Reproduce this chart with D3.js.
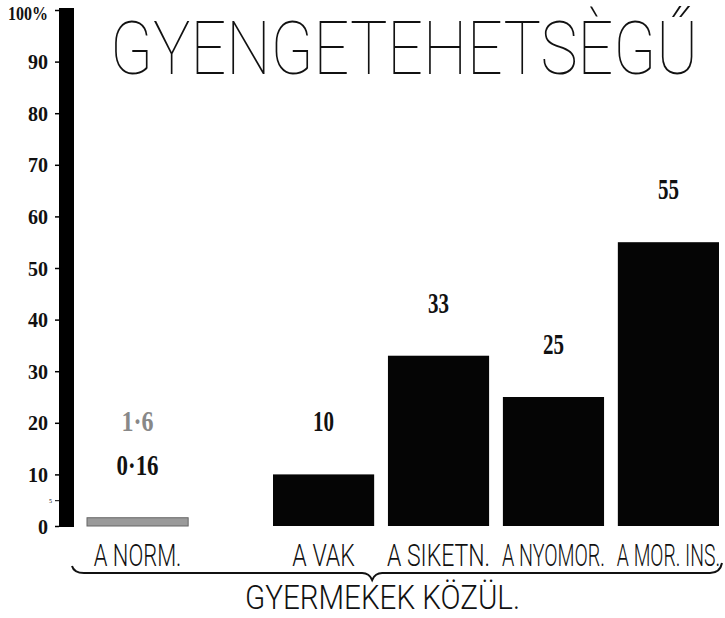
<!DOCTYPE html>
<html>
<head>
<meta charset="utf-8">
<script src="https://cdn.jsdelivr.net/npm/d3@7"></script>
<style>
  body { margin: 0; background: #fff; }
</style>
</head>
<body>
<div id="chart"></div>
<script>
// data
const categories = ["A NORM.", "A VAK", "A SIKETN.", "A NYOMOR.", "A MOR. INS."];
const values = [1.6, 10, 33, 25, 55];
const valueLabels = ["0·16", "10", "33", "25", "55"];
const normExtraLabel = "1·6";
const yTicks = [0, 10, 20, 30, 40, 50, 60, 70, 80, 90, 100];
const minorTicks = [5];
const title = "GYENGETEHETSÈGŰ";
const groupLabel = "GYERMEKEK KÖZÜL.";

const width = 725, height = 618;

var svg = d3.select("#chart")
    .append("svg")
    .attr("width", width)
    .attr("height", height);

svg.append("rect").attr("width", width).attr("height", height).attr("fill", "#fff");

// y scale: 0 at the foot of the bars, 100% at the top of the post
var y = d3.scaleLinear().domain([0, 100]).range([526, 10]);

// the normal children stand apart from the other four groups
var xLeft = d3.scaleBand().domain(categories.slice(0, 1)).range([87, 188]).padding(0);
var xRight = d3.scaleBand().domain(categories.slice(1)).range([273, 719])
    .paddingInner(0.12).paddingOuter(0);
function xPos(c) { return c === categories[0] ? xLeft(c) : xRight(c); }
var bw = xRight.bandwidth();

var data = categories.map(function (c, i) { return { cat: c, value: values[i], label: valueLabels[i] }; });

// tall narrow lettering: small font stretched upward
function tallText(parent, x, yBase, k, size, len, anchor, weight) {
    return parent.append("g")
        .attr("transform", "translate(" + x + "," + yBase + ") scale(1," + k + ")")
        .append("text")
        .attr("text-anchor", anchor)
        .attr("textLength", len)
        .attr("lengthAdjust", "spacingAndGlyphs")
        .style("font-family", "Roboto, 'Noto Sans', sans-serif")
        .style("font-weight", weight)
        .style("font-size", size + "px")
        .style("fill", "#111");
}

// title
tallText(svg, 110, 74, 1.45, 51, 588, "start", "100").text(title);

// thick black post as the y axis
svg.append("rect")
    .attr("x", 59)
    .attr("y", 8)
    .attr("width", 15)
    .attr("height", y(0) - 8 + 1)
    .attr("fill", "#000");

var yAxis = svg.append("g")
    .attr("transform", "translate(59,0)")
    .call(d3.axisLeft(y)
        .tickValues(yTicks)
        .tickSize(4)
        .tickPadding(7)
        .tickFormat(function (d) { return d === 100 ? "100%" : d; }));
yAxis.select(".domain").remove();
yAxis.selectAll("line").attr("stroke", "#000").attr("stroke-width", 1.5);
yAxis.selectAll("text")
    .attr("textLength", function (d) { return d === 100 ? 40 : (d === 0 ? 10 : 20); })
    .attr("lengthAdjust", "spacingAndGlyphs")
    .style("font-family", "'Liberation Serif', serif")
    .style("font-weight", "bold")
    .style("font-size", "22px")
    .style("fill", "#111");
yAxis.selectAll(".tick").filter(function (d) { return d === 100; }).select("text")
    .attr("dy", "0.55em")
    .style("font-size", "18px");

// tiny minor tick at 5
var minor = svg.append("g")
    .attr("transform", "translate(59,0)")
    .call(d3.axisLeft(y).tickValues(minorTicks).tickSize(4).tickPadding(3));
minor.select(".domain").remove();
minor.selectAll("line").attr("stroke", "#000").attr("stroke-width", 1);
minor.selectAll("text").style("font-size", "6px").style("font-family", "'Liberation Serif', serif");

// bars
svg.selectAll(".bar")
    .data(data)
    .enter().append("rect")
    .attr("class", "bar")
    .attr("x", function (d) { return xPos(d.cat); })
    .attr("y", function (d) { return y(d.value); })
    .attr("width", bw)
    .attr("height", function (d) { return y(0) - y(d.value); })
    .attr("fill", function (d, i) { return i === 0 ? "#9a9a9a" : "#050505"; })
    .attr("stroke", function (d, i) { return i === 0 ? "#666" : "none"; })
    .attr("stroke-width", 1);

// value labels above bars
svg.selectAll(".val")
    .data(data)
    .enter().append("text")
    .attr("class", "val")
    .attr("x", function (d) { return xPos(d.cat) + bw / 2; })
    .attr("y", function (d, i) { return i === 0 ? 475 : y(d.value) - 43; })
    .attr("text-anchor", "middle")
    .attr("textLength", function (d) { return d.label.length * 10.5; })
    .attr("lengthAdjust", "spacingAndGlyphs")
    .style("font-family", "'Liberation Serif', serif")
    .style("font-weight", "bold")
    .style("font-size", "29px")
    .style("fill", "#111")
    .text(function (d) { return d.label; });

// pencilled extra figure over the normal bar
svg.append("text")
    .attr("x", xLeft(categories[0]) + bw / 2)
    .attr("y", 431)
    .attr("text-anchor", "middle")
    .attr("textLength", 32)
    .attr("lengthAdjust", "spacingAndGlyphs")
    .style("font-family", "'Liberation Serif', serif")
    .style("font-weight", "bold")
    .style("font-size", "29px")
    .style("fill", "#888")
    .text(normExtraLabel);

// category labels
data.forEach(function (d) {
    tallText(svg, xPos(d.cat) + bw / 2, 566, 1.9, 17,
        Math.min(bw + 2, d.cat.length * 12.5), "middle", "300").text(d.cat);
});

// brace grouping all categories
var bL = xLeft.range()[0] - 15, bR = xRight.range()[1] + 3;
var tip = xRight(categories[1]) + bw - 2, by = 573;
var brace = d3.path();
brace.moveTo(bL, by - 7);
brace.quadraticCurveTo(bL + 2, by, bL + 12, by);
brace.lineTo(tip - 10, by);
brace.quadraticCurveTo(tip - 3, by, tip, by + 7);
brace.quadraticCurveTo(tip + 3, by, tip + 10, by);
brace.lineTo(bR - 12, by);
brace.quadraticCurveTo(bR - 2, by, bR, by - 10);
svg.append("path")
    .attr("d", brace.toString())
    .attr("fill", "none")
    .attr("stroke", "#111")
    .attr("stroke-width", 2);

tallText(svg, 245, 609, 1.3, 26, 275, "start", "300").text(groupLabel);
</script>
</body>
</html>
